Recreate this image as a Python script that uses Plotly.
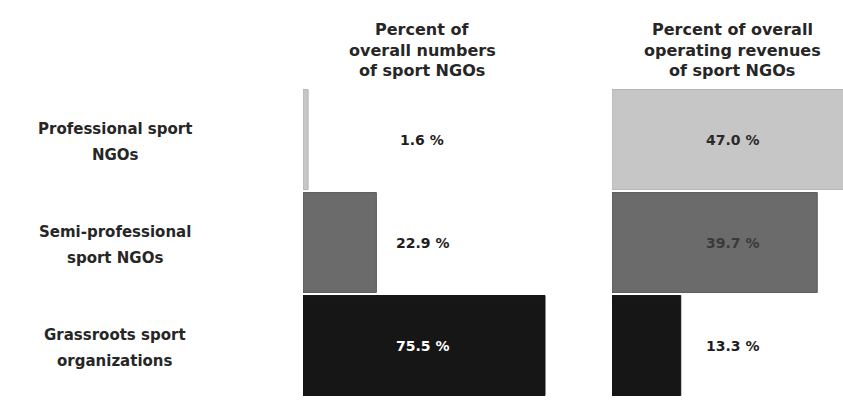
import plotly.graph_objects as go

# ---- data ----
categories = ["Professional sport NGOs", "Semi-professional sport NGOs", "Grassroots sport organizations"]
category_label_lines = [["Professional sport", "NGOs"],
                        ["Semi-professional", "sport NGOs"],
                        ["Grassroots sport", "organizations"]]
pct_numbers = [1.6, 22.9, 75.5]
pct_revenues = [47.0, 39.7, 13.3]
title_numbers = ["Percent of", "overall numbers", "of sport NGOs"]
title_revenues = ["Percent of overall", "operating revenues", "of sport NGOs"]

# ---- styles ----
W, H = 843, 410
bar_colors = ["#c6c6c6", "#6b6b6b", "#161616"]
line_colors = ["#b4b4b4", "#5a5a5a", "#101010"]
FONT = "DejaVu Sans"
TXT = "#262626"

fig = go.Figure()
fig.add_trace(go.Bar(
    y=categories, x=pct_numbers, orientation="h",
    marker=dict(color=bar_colors, line=dict(color=line_colors, width=1)),
    xaxis="x", yaxis="y", showlegend=False, hoverinfo="skip"))
fig.add_trace(go.Bar(
    y=categories, x=pct_revenues, orientation="h",
    marker=dict(color=bar_colors, line=dict(color=line_colors, width=1)),
    xaxis="x2", yaxis="y2", showlegend=False, hoverinfo="skip"))

left_dom = [303 / W, 590 / W]
right_dom = [612 / W, 1.0]
left_scale = 3.205   # px per percent
right_scale = 5.17
ydom = [1 - 397 / H, 1 - 88 / H]

axis_common = dict(showgrid=False, zeroline=False, showticklabels=False, showline=False, ticks="")
fig.update_layout(
    width=W, height=H,
    margin=dict(l=0, r=0, t=0, b=0),
    paper_bgcolor="white", plot_bgcolor="rgba(0,0,0,0)",
    bargap=0.03,
    xaxis=dict(domain=left_dom, range=[0, (590 - 303) / left_scale], anchor="y", **axis_common),
    xaxis2=dict(domain=right_dom, range=[0, (W - 612) / right_scale], anchor="y2", **axis_common),
    yaxis=dict(domain=ydom, categoryorder="array", categoryarray=categories, autorange="reversed",
               anchor="x", **axis_common),
    yaxis2=dict(domain=ydom, matches="y", anchor="x2", **axis_common),
)

ann = []
# column titles
for lines, cx in ((title_numbers, 422), (title_revenues, 732)):
    for i, t in enumerate(lines):
        ann.append(dict(text=t, xref="paper", yref="paper", x=cx / W, y=1 - (30 + 20 * i) / H,
                        xanchor="center", yanchor="middle", showarrow=False,
                        font=dict(family=FONT, size=16, color=TXT, weight="bold")))
# category labels
for cat, lines in zip(categories, category_label_lines):
    for i, t in enumerate(lines):
        ann.append(dict(text=t, xref="paper", yref="y", x=115 / W, y=cat,
                        yshift=10.5 - 26 * i, xanchor="center", yanchor="middle", showarrow=False,
                        font=dict(family=FONT, size=15, color=TXT, weight="bold")))
# value labels
num_colors = ["#1e1e1e", "#1e1e1e", "#ffffff"]
rev_colors = ["#2a2a2a", "#3a3a3a", "#1e1e1e"]
for cat, v, c in zip(categories, pct_numbers, num_colors):
    ann.append(dict(text=f"{v:.1f} %", xref="paper", yref="y", x=422 / W, y=cat,
                    xanchor="center", yanchor="middle", showarrow=False,
                    font=dict(family=FONT, size=14, color=c, weight="bold")))
for cat, v, c in zip(categories, pct_revenues, rev_colors):
    ann.append(dict(text=f"{v:.1f} %", xref="paper", yref="y", x=732 / W, y=cat,
                    xanchor="center", yanchor="middle", showarrow=False,
                    font=dict(family=FONT, size=14, color=c, weight="bold")))
fig.update_layout(annotations=ann)

fig.write_html("out.html",
               config={"displayModeBar": False, "staticPlot": True},
               post_script="document.body.style.margin='0';document.body.style.overflow='hidden';")
